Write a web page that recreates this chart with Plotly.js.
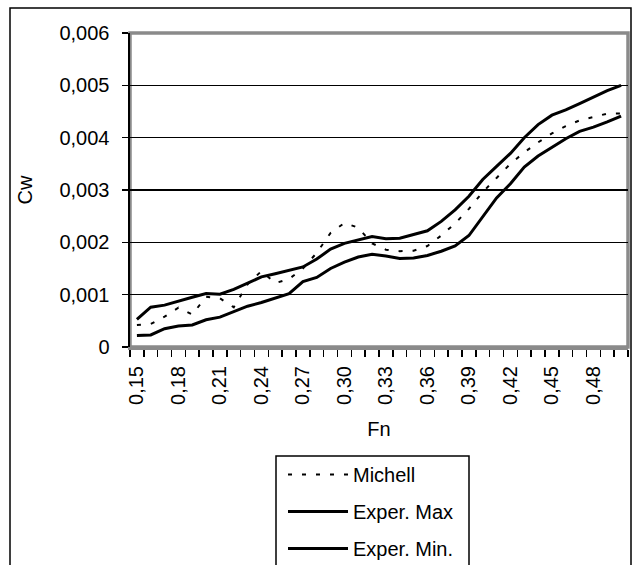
<!DOCTYPE html>
<html>
<head>
<meta charset="utf-8">
<script src="https://cdn.plot.ly/plotly-3.0.1.min.js"></script>
<style>
  html, body { margin: 0; padding: 0; background: #fff; }
  #chart { width: 633px; height: 565px; }
</style>
</head>
<body>
<div id="chart"></div>
<script>
// Froude number categories
const Fn = [0.15, 0.16, 0.17, 0.18, 0.19, 0.20, 0.21, 0.22, 0.23, 0.24,
            0.25, 0.26, 0.27, 0.28, 0.29, 0.30, 0.31, 0.32, 0.33, 0.34,
            0.35, 0.36, 0.37, 0.38, 0.39, 0.40, 0.41, 0.42, 0.43, 0.44,
            0.45, 0.46, 0.47, 0.48, 0.49, 0.50];

// Wave resistance coefficient series
const michell = [0.00042, 0.00044, 0.00058, 0.00075, 0.00062, 0.00096, 0.00093, 0.00076, 0.00120, 0.00145,
                 0.00122, 0.00130, 0.00150, 0.00180, 0.00218, 0.00237, 0.00228, 0.00198, 0.00186, 0.00183,
                 0.00184, 0.00193, 0.00213, 0.00236, 0.00264, 0.00296, 0.00323, 0.00350, 0.00372, 0.00391,
                 0.00408, 0.00422, 0.00433, 0.00440, 0.00446, 0.00446];

const experMax = [0.00053, 0.00076, 0.00080, 0.00088, 0.00095, 0.00102, 0.00101, 0.00110, 0.00122, 0.00134,
                  0.00140, 0.00146, 0.00153, 0.00168, 0.00187, 0.00198, 0.00205, 0.00211, 0.00207, 0.00208,
                  0.00215, 0.00222, 0.00240, 0.00262, 0.00288, 0.00320, 0.00345, 0.00370, 0.00400, 0.00425,
                  0.00443, 0.00453, 0.00465, 0.00477, 0.00490, 0.00500];

const experMin = [0.00022, 0.00023, 0.00035, 0.00040, 0.00042, 0.00052, 0.00057, 0.00067, 0.00078, 0.00085,
                  0.00093, 0.00102, 0.00125, 0.00133, 0.00150, 0.00162, 0.00172, 0.00177, 0.00174, 0.00169,
                  0.00170, 0.00175, 0.00183, 0.00193, 0.00213, 0.00250, 0.00285, 0.00312, 0.00344, 0.00365,
                  0.00381, 0.00398, 0.00412, 0.00420, 0.00430, 0.00441];

// Tick labels
const xTickVals = [0.15, 0.18, 0.21, 0.24, 0.27, 0.30, 0.33, 0.36, 0.39, 0.42, 0.45, 0.48];
const xTickText = ["0,15", "0,18", "0,21", "0,24", "0,27", "0,30", "0,33", "0,36", "0,39", "0,42", "0,45", "0,48"];
const yTickVals = [0, 0.001, 0.002, 0.003, 0.004, 0.005, 0.006];
const yTickText = ["0", "0,001", "0,002", "0,003", "0,004", "0,005", "0,006"];

const seriesNames = ["Michell", "Exper. Max", "Exper. Min."];

// category boundaries (ticks between categories)
const halfStep = 0.005;
const boundaries = Fn.map(v => +(v - halfStep).toFixed(3)).concat([+(Fn[Fn.length - 1] + halfStep).toFixed(3)]);

const FONT = "Liberation Sans, Arial, sans-serif";

const traces = [
  {
    x: Fn, y: michell, name: seriesNames[0], type: "scatter", mode: "lines",
    legendgroup: "a",
    line: { color: "#000", width: 2, dash: "4px,10px" }
  },
  {
    x: Fn, y: experMax, name: seriesNames[1], type: "scatter", mode: "lines",
    legendgroup: "b",
    line: { color: "#000", width: 3 }
  },
  {
    x: Fn, y: experMin, name: seriesNames[2], type: "scatter", mode: "lines",
    legendgroup: "c",
    line: { color: "#000", width: 3 }
  }
];

const L = 130, R = 5, T = 33, B = 218, W = 633, H = 565;
const pw = W - L - R, ph = H - T - B;
const px = p => (p - L) / pw;
const py = p => (H - B - p) / ph;

const layout = {
  width: W, height: H,
  margin: { l: L, r: R, t: T, b: B, pad: 0, autoexpand: false },
  paper_bgcolor: "#fff",
  plot_bgcolor: "#fff",
  font: { family: FONT, size: 20, color: "#000" },
  showlegend: true,
  xaxis: {
    type: "linear",
    range: [0.145, 0.505],
    tickmode: "array",
    tickvals: xTickVals,
    ticktext: xTickText,
    tickangle: -90,
    ticks: "",
    ticklabelstandoff: 8,
    showgrid: false,
    zeroline: false,
    showline: true,
    linecolor: "#8a8a8a",
    linewidth: 3,
    automargin: false,
    tickfont: { family: FONT, size: 20, color: "#000" },
    minor: {
      tickmode: "array",
      tickvals: boundaries,
      ticks: "outside",
      ticklen: 7,
      tickwidth: 1.5,
      tickcolor: "#000",
      showgrid: false
    },
    title: { text: "Fn", font: { family: FONT, size: 20, color: "#000" }, standoff: 19 }
  },
  yaxis: {
    range: [0, 0.006],
    tickmode: "array",
    tickvals: yTickVals,
    ticktext: yTickText,
    ticks: "outside",
    ticklen: 6,
    tickwidth: 1.5,
    tickcolor: "#000",
    ticklabelstandoff: 8,
    showgrid: true,
    gridcolor: "#000",
    gridwidth: 1.2,
    zeroline: false,
    showline: true,
    linecolor: "#000",
    linewidth: 2.5,
    automargin: false,
    tickfont: { family: FONT, size: 20, color: "#000" },
    title: { text: "Cw", font: { family: FONT, size: 20, color: "#000" }, standoff: 22 }
  },
  legend: {
    x: px(283), xanchor: "left",
    y: py(455), yanchor: "top",
    bgcolor: "rgba(0,0,0,0)",
    borderwidth: 0,
    itemwidth: 60,
    traceorder: "grouped",
    tracegroupgap: 8,
    font: { family: FONT, size: 20, color: "#000" }
  },
  shapes: [
    { type: "rect", xref: "paper", yref: "paper", x0: 0, x1: 1, y0: 0, y1: 1,
      line: { color: "#8a8a8a", width: 3.5 }, layer: "below" },
    { type: "rect", xref: "paper", yref: "paper", x0: px(10), x1: px(631), y0: py(580), y1: py(8),
      line: { color: "#000", width: 1.5 }, layer: "below" },
    { type: "rect", xref: "paper", yref: "paper", x0: px(276), x1: px(469), y0: py(580), y1: py(456),
      line: { color: "#000", width: 1.5 }, fillcolor: "#fff", layer: "below" }
  ]
};

Plotly.newPlot("chart", traces, layout, { staticPlot: true, displayModeBar: false });
</script>
</body>
</html>
